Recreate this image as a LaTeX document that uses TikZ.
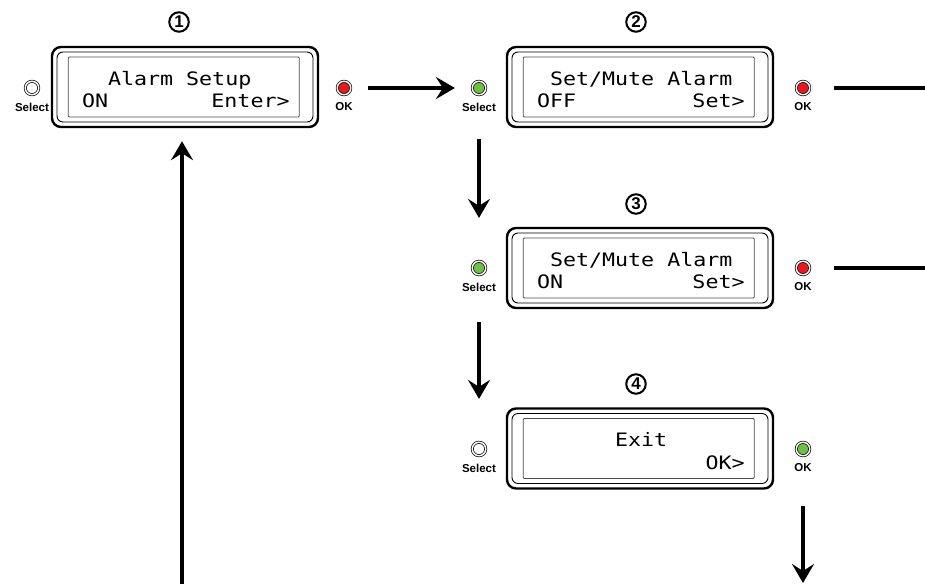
\documentclass[tikz,border=0pt]{standalone}
\usepackage{fontspec}
\setmainfont{Liberation Sans}
\newfontfamily\lcdfont[FakeStretch=1.17]{DejaVu Sans Mono}
\usetikzlibrary{arrows.meta,calc}
\definecolor{ledred}{HTML}{F2151B}
\definecolor{ledgreen}{HTML}{6DC33F}

\begin{document}
\begin{tikzpicture}[x=1pt, y=-1pt,
  lcd frame/.style={draw, rounded corners=9pt, line width=2.4pt, minimum width=266pt, minimum height=80pt, inner sep=0pt},
  lcd rim/.style={draw, rounded corners=6pt, line width=0.9pt, minimum width=256pt, minimum height=70pt, inner sep=0pt},
  lcd glass/.style={draw=black!70, rounded corners=1pt, line width=0.9pt, minimum width=231pt, minimum height=60pt, inner sep=0pt},
  lcd text/.style={font=\lcdfont\fontsize{18.5}{20}\selectfont, inner sep=0pt, anchor=base west},
  led/.style={circle, draw, line width=0.7pt, double=white, double distance=1.5pt, minimum size=13.5pt, inner sep=0pt},
  led label/.style={font=\bfseries\fontsize{11.5}{12}\selectfont, inner sep=0pt},
  stage num/.style={circle, draw, line width=2pt, minimum size=19.5pt, inner sep=0pt, font=\bfseries\fontsize{17}{18}\selectfont},
  flow/.style={line width=4.5pt, -{Stealth[length=19pt, width=22pt, inset=7pt]}},
  wire/.style={line width=4.5pt}]
\useasboundingbox (0,0) rectangle (925,584);
% displays
\begin{scope}
\node[lcd frame] (f1) at (185,87) {};
\node[lcd rim] (r1) at (f1) {};
\node[lcd glass] (g1) at ($(f1)+(-1.3,0)$) {};
\node[lcd text] (t1a) at ($(f1.west)+(57,-2)$) {Alarm Setup};
\node[lcd text] (t1b) at ($(f1.west)+(31,20.5)$) {ON};
\node[lcd text, anchor=base east] (t1c) at ($(f1.west)+(239,20.5)$) {Enter>};
\node[lcd frame] (f2) at (640,87) {};
\node[lcd rim] (r2) at (f2) {};
\node[lcd glass] (g2) at ($(f2)+(-1.3,0)$) {};
\node[lcd text] (t2a) at ($(f2.west)+(44,-2)$) {Set/Mute Alarm};
\node[lcd text] (t2b) at ($(f2.west)+(31,20.5)$) {OFF};
\node[lcd text, anchor=base east] (t2c) at ($(f2.west)+(239,20.5)$) {Set>};
\node[lcd frame] (f3) at (640,268) {};
\node[lcd rim] (r3) at (f3) {};
\node[lcd glass] (g3) at ($(f3)+(-1.3,0)$) {};
\node[lcd text] (t3a) at ($(f3.west)+(44,-2)$) {Set/Mute Alarm};
\node[lcd text] (t3b) at ($(f3.west)+(31,20.5)$) {ON};
\node[lcd text, anchor=base east] (t3c) at ($(f3.west)+(239,20.5)$) {Set>};
\node[lcd frame] (f4) at (640,448.5) {};
\node[lcd rim] (r4) at (f4) {};
\node[lcd glass] (g4) at ($(f4)+(-1.3,0)$) {};
\node[lcd text] (t4a) at ($(f4.west)+(109,-2)$) {Exit};
\node[lcd text, anchor=base east] (t4c) at ($(f4.west)+(239,20.5)$) {OK>};
\end{scope}
% step numbers
\node[stage num] (n1) at (179,22) {1};
\node[stage num] (n2) at (636,22) {2};
\node[stage num] (n3) at (636,204) {3};
\node[stage num] (n4) at (636,384) {4};
% buttons
\begin{scope}
\node[led, fill=white] (s1) at (32,88) {};
\node[led, fill=ledred] (k1) at (344,88) {};
\node[led, fill=ledgreen] (s2) at (479,88) {};
\node[led, fill=ledred] (k2) at (803,88) {};
\node[led, fill=ledgreen] (s3) at (479,268) {};
\node[led, fill=ledred] (k3) at (803,268) {};
\node[led, fill=white] (s4) at (479,449) {};
\node[led, fill=ledgreen] (k4) at (803,449) {};
\end{scope}
\begin{scope}[every node/.style={led label}]
\node (s1l) at (32,107) {Select};
\node (k1l) at (344,107) {OK};
\node (s2l) at (479,107) {Select};
\node (k2l) at (803,107) {OK};
\node (s3l) at (479,287) {Select};
\node (k3l) at (803,287) {OK};
\node (s4l) at (479,468) {Select};
\node (k4l) at (803,468) {OK};
\end{scope}
% connectors
\coordinate (o2) at (925,88);
\coordinate (o3) at (925,268);
\coordinate (o4) at (803,584);
\coordinate (i1) at (182,584);
\draw[flow, shorten <=17pt, shorten >=17pt] (k1) -- (s2);
\draw[flow, shorten <=28pt, shorten >=43pt] (s2l) -- (s3);
\draw[flow, shorten <=31pt, shorten >=43pt] (s3l) -- (s4);
\draw[wire, shorten <=24pt] (k2) -- (o2);
\draw[wire, shorten <=24pt] (k3) -- (o3);
\draw[flow, shorten <=34pt, shorten >=1pt] (k4l) -- (o4);
\draw[flow, shorten >=13pt] (i1) -- (i1 |- f1.south);
\end{tikzpicture}
\end{document}
